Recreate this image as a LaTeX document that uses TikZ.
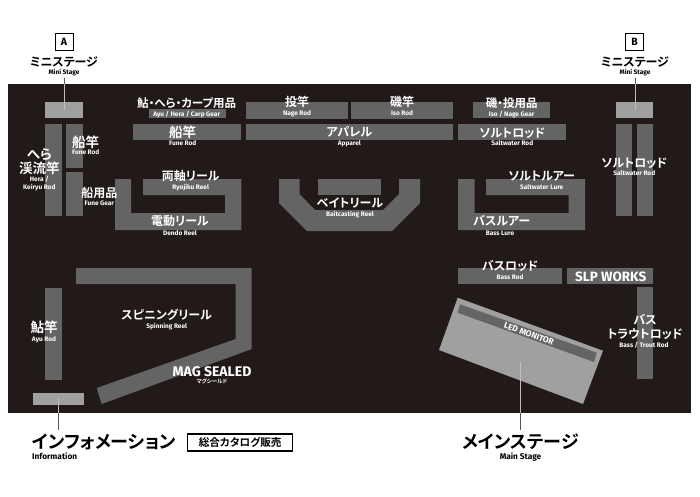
\documentclass[tikz,border=0pt]{standalone}
\usepackage{fontspec}
\newfontfamily\jpfont{Noto Sans CJK JP}[BoldFont=* Bold, RawFeature=+palt]
\newfontfamily\enfont{Fira Sans}[BoldFont=* Bold]
\usetikzlibrary{positioning}
\definecolor{hall}{HTML}{211A18}
\definecolor{booth}{HTML}{646464}
\definecolor{stage}{HTML}{A0A0A0}
\definecolor{leadline}{HTML}{555555}
\definecolor{leadlight}{HTML}{BEBEBE}

\begin{document}
\begin{tikzpicture}[
  x=1pt, y=-1pt,
  node distance=1.5pt,
  boothfill/.style={fill=booth},
  stagefill/.style={fill=stage},
  leader/.style={draw=leadline, line width=0.9pt},
  leaderin/.style={draw=leadlight, line width=0.9pt},
  jp/.style={inner sep=0pt, text=white, text height=10pt, text depth=2pt,
    font=\jpfont\bfseries\fontsize{12}{14}\selectfont},
  jpbig/.style={jp, text height=11pt, text depth=2pt,
    font=\jpfont\bfseries\fontsize{13.5}{15}\selectfont},
  jpsmall/.style={jp, font=\jpfont\bfseries\fontsize{11.5}{12}\selectfont},
  en/.style={inner sep=0pt, text=white, text height=5pt, text depth=1pt,
    font=\enfont\bfseries\fontsize{6.5}{7}\selectfont},
  jpout/.style={jp, text=black, font=\jpfont\bfseries\fontsize{12}{14}\selectfont},
  enout/.style={en, text=black},
  jptitle/.style={jp, text=black, text height=14pt, text depth=3pt,
    font=\jpfont\bfseries\fontsize{18}{19}\selectfont},
  entitle/.style={en, text=black, text height=6pt, text depth=2pt,
    font=\enfont\bfseries\fontsize{8.3}{9}\selectfont},
  tagbox/.style={draw=black, inner sep=0pt, text=black, minimum height=17pt, line width=1pt}
]
\useasboundingbox (0,0) rectangle (700,496);
\fill[hall] (8,84) rectangle (691,413);

% stages
\fill[stagefill] (45,102) rectangle (83,118);
\fill[stagefill] (616,102) rectangle (653,118);
\fill[stagefill] (32.7,393) rectangle (84.3,405);
\fill[stagefill] (457.7,297.7) -- (603,350.7) -- (583,404) -- (439,350) -- cycle;
\fill[boothfill] (460,304.3) -- (596.7,352.7) -- (594,362) -- (457.7,312.7) -- cycle;

% left wall
\fill[boothfill] (45,124) rectangle (61.5,216);
\fill[boothfill] (66,124) rectangle (82.7,168);
\fill[boothfill] (66,172) rectangle (82.7,216);
\fill[boothfill] (45,288) rectangle (61.5,380);

% top rows
\fill[boothfill] (149,109) rectangle (226,118);
\fill[boothfill] (133,124) rectangle (241,140);
\fill[boothfill] (246,102) rectangle (348,118.5);
\fill[boothfill] (351,102) rectangle (453,118.5);
\fill[boothfill] (246,124) rectangle (453,140);
\fill[boothfill] (473,102) rectangle (550,118);
\fill[boothfill] (458,124) rectangle (566,140);

% reels and lures
\fill[boothfill] (115,179) -- (131,179) -- (131,213) -- (225,213) -- (225,195) -- (143,195)
  -- (143,179) -- (241.3,179) -- (241.3,230) -- (115,230) -- cycle;
\fill[boothfill] (279,179) -- (299.5,179) -- (299.5,194) -- (315,210) -- (383,210) -- (399,194)
  -- (399,179) -- (420,179) -- (420,203) -- (392,231) -- (307,231) -- (279,203) -- cycle;
\fill[boothfill] (318,179) rectangle (381,195);
\fill[boothfill] (458,179) -- (474.5,179) -- (474.5,213) -- (568.7,213) -- (568.7,195) -- (486,195)
  -- (486,179) -- (585,179) -- (585,230) -- (458,230) -- cycle;

% right wall
\fill[boothfill] (616,124) rectangle (632.3,216);
\fill[boothfill] (637,124) rectangle (653,216);
\fill[boothfill] (637,287) rectangle (653,379);

% lower area
\fill[boothfill] (76,268) -- (251.7,268) -- (251.7,349) -- (101.7,404) -- (96.7,388)
  -- (235.7,339) -- (235.7,284) -- (76,284) -- cycle;
\fill[boothfill] (458,268) rectangle (562,284);
\fill[boothfill] (567,268) rectangle (653,284);

% outside labels
\node[tagbox, minimum width=18pt, font=\enfont\bfseries\fontsize{10.5}{11}\selectfont] (taga) at (64,41.5) {A};
\node[tagbox, minimum width=18pt, font=\enfont\bfseries\fontsize{10.5}{11}\selectfont] (tagb) at (634.6,41.5) {B};
\node[jpout] (minia) at (64,62) {ミニステージ};
\node[enout, below=of minia] (miniaen) {Mini Stage};
\node[jpout] (minib) at (635,62) {ミニステージ};
\node[enout, below=of minib] (minben) {Mini Stage};
\node[jptitle, anchor=west] (info) at (32,443) {インフォメーション};
\node[entitle, anchor=north west] (infoen) at (32,453) {Information};
\node[jptitle] (mainst) at (520.5,443) {メインステージ};
\node[entitle] (mainen) at (520.5,457) {Main Stage};
\node[tagbox, line width=1.2pt, minimum width=105pt, font=\jpfont\bfseries\fontsize{10.6}{11}\selectfont]
  (catalog) at (240.2,442.5) {総合カタログ販売};

% leaders
\coordinate (edgea) at (64,84);
\coordinate (edgeb) at (635,84);
\coordinate (stagea) at (64,110);
\coordinate (stageb) at (635,110);
\coordinate (infodesk) at (58,398);
\coordinate (infoedge) at (58,413);
\coordinate (infotop) at (58,430);
\coordinate (mainstage) at (520.7,361.7);
\coordinate (mainedge) at (520.7,413);
\coordinate (maintop) at (520.7,430);
\draw[leader] (miniaen.south) ++(0,1.5) -- (edgea);
\draw[leader] (minben.south) ++(0,1.5) -- (edgeb);
\draw[leaderin] (edgea) -- (stagea);
\draw[leaderin] (edgeb) -- (stageb);
\draw[leaderin] (infodesk) -- (infoedge);
\draw[leader] (infoedge) -- (infotop);
\draw[leaderin] (mainstage) -- (mainedge);
\draw[leader] (mainedge) -- (maintop);

% labels in the hall
\node[jpsmall] (ayugear) at (186.7,103) {鮎・へら・カープ用品};
\node[en, below=2pt of ayugear] (ayugearen) {Ayu / Hera / Carp Gear};
\node[jpbig] (funetop) at (182.7,132.7) {船竿};
\node[en] (funetopen) at (182.7,143) {Fune Rod};
\node[jp] (nage) at (297,102) {投竿};
\node[en, below=2pt of nage] (nageen) {Nage Rod};
\node[jp] (iso) at (402,102) {磯竿};
\node[en, below=2pt of iso] (isoen) {Iso Rod};
\node[jp] (apparel) at (349.3,132.3) {アパレル};
\node[en] (apparelen) at (349.3,143.3) {Apparel};
\node[jpsmall] (isogear) at (511.7,103) {磯・投用品};
\node[en, below=2pt of isogear] (isogearen) {Iso / Nage Gear};
\node[jp] (salttop) at (512.3,133) {ソルトロッド};
\node[en] (salttopen) at (512.3,143) {Saltwater Rod};

\node[jpbig] (hera) at (39.3,155) {へら};
\node[jpbig] (keiryu) at (39.3,169) {渓流竿};
\node[en] (heraen) at (39.3,179.3) {Hera /};
\node[en] (keiryuen) at (39.3,187) {Keiryu Rod};
\node[jpbig] (funeside) at (85.7,142.7) {船竿};
\node[en] (funesideen) at (85.7,152) {Fune Rod};
\node[jp] (funegear) at (99.3,193) {船用品};
\node[en] (funegearen) at (99.3,203) {Fune Gear};
\node[jp] (ryojiku) at (190.7,176.7) {両軸リール};
\node[en] (ryojikuen) at (190.7,187.7) {Ryojiku Reel};
\node[jp] (dendo) at (180,221.7) {電動リール};
\node[en] (dendoen) at (180,233.3) {Dendo Reel};
\node[jp] (bait) at (350,203.3) {ベイトリール};
\node[en] (baiten) at (350,214.3) {Baitcasting Reel};
\node[jp] (saltlure) at (541.7,176) {ソルトルアー};
\node[en] (saltlureen) at (541.7,187.7) {Saltwater Lure};
\node[jp] (basslure) at (501.7,221.7) {バスルアー};
\node[en] (basslureen) at (500,233.3) {Bass Lure};
\node[jp] (saltside) at (634.3,163.3) {ソルトロッド};
\node[en] (saltsideen) at (634.3,173.3) {Saltwater Rod};

\node[jp] (spin) at (166.7,315) {スピニングリール};
\node[en] (spinen) at (166.7,326) {Spinning Reel};
\node[jpbig] (ayu) at (44,328) {鮎竿};
\node[en] (ayuen) at (44,339.3) {Ayu Rod};
\node[inner sep=0pt, text=white, font=\enfont\bfseries\fontsize{14}{15}\selectfont] (mag) at (212,371.7) {MAG SEALED};
\node[inner sep=0pt, text=white, font=\jpfont\bfseries\fontsize{5.5}{6}\selectfont] (magjp) at (212,381.5) {マグシールド};
\node[jp] (bassrod) at (510,266) {バスロッド};
\node[en] (bassroden) at (510,277.7) {Bass Rod};
\node[inner sep=0pt, text=white, font=\enfont\bfseries\fontsize{13.5}{15}\selectfont] (slp) at (610.7,276.7) {SLP WORKS};
\node[jp] (basstop) at (645,320) {バス};
\node[jp] (trout) at (645,334.3) {トラウトロッド};
\node[en] (trouten) at (644,345) {Bass / Trout Rod};
\node[inner sep=0pt, text=white, rotate=-20, font=\enfont\bfseries\fontsize{8.5}{9}\selectfont] (led) at (529,334) {LED MONITOR};
\end{tikzpicture}
\end{document}
